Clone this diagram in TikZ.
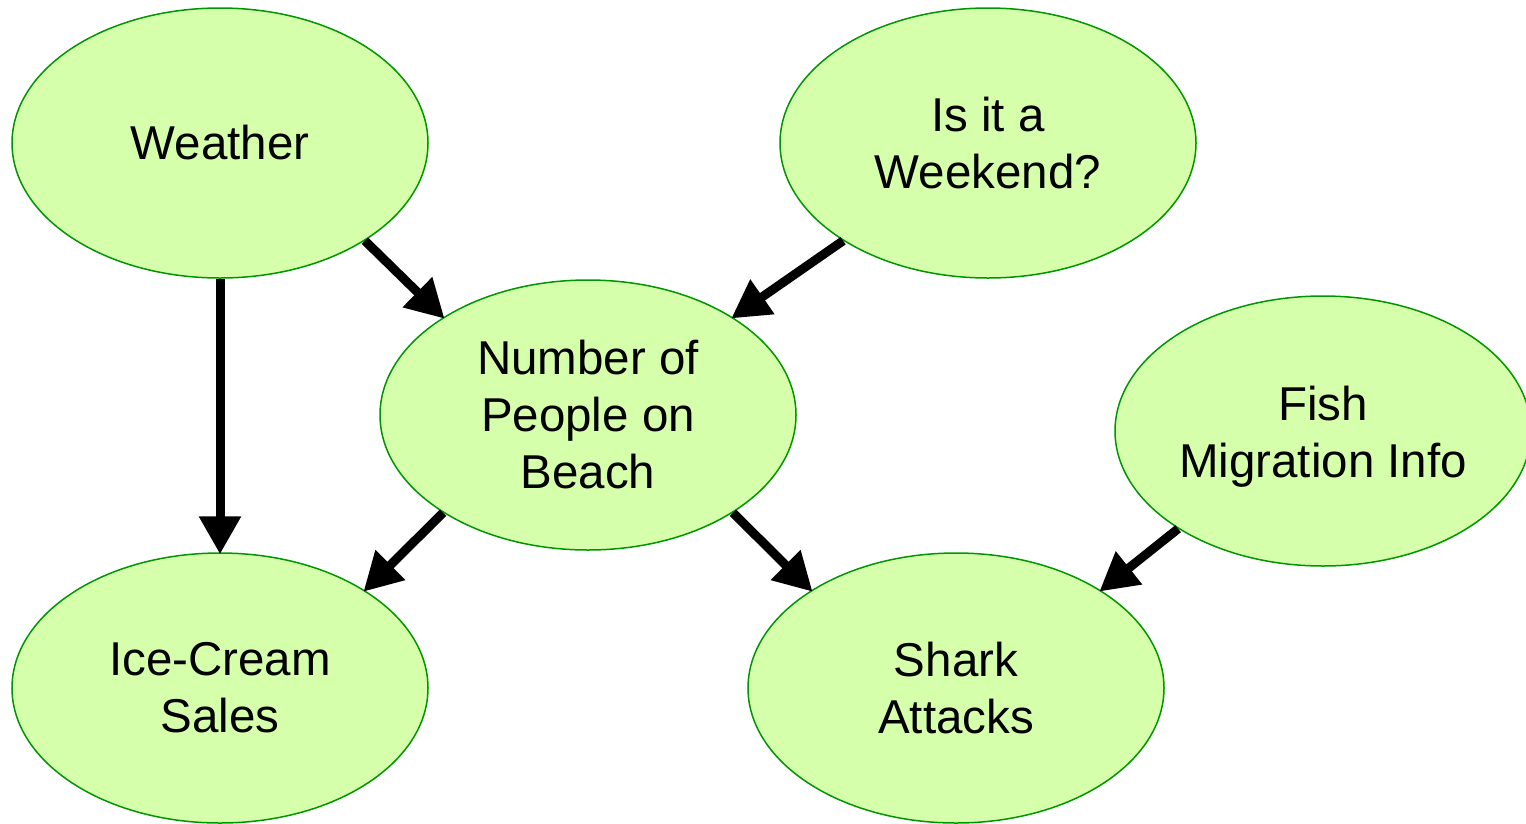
\documentclass[tikz,border=0pt]{standalone}
\usepackage{fontspec}
\setmainfont{Liberation Sans}
\usetikzlibrary{shapes.geometric,arrows.meta}
\definecolor{nodefill}{RGB}{214,255,172}
\definecolor{nodeedge}{RGB}{0,150,0}
\tikzset{
  bubble/.style={ellipse, draw=nodeedge, line width=1.5pt, fill=nodefill,
    minimum width=416pt, minimum height=270pt, inner sep=0pt, align=center,
    font=\fontsize{47.5pt}{57pt}\selectfont},
  conn/.style={line width=9pt, -{Triangle[length=38pt,width=40pt]}, shorten >=-2pt}
}
\begin{document}
\begin{tikzpicture}[x=1pt,y=-1pt]
\useasboundingbox (0,0) rectangle (1526,823);
\node[bubble] (w) at (220,143) {Weather};
\node[bubble] (k) at (988,143) {Is it a\\Weekend?};
\node[bubble] (n) at (588,415) {Number of\\People on\\Beach};
\node[bubble] (f) at (1323,431) {\raisebox{0pt}[\dimexpr\height+13pt\relax]{\begin{tabular}{@{}c@{}}Fish\\Migration Info\end{tabular}}};
\node[bubble] (i) at (220,688) {Ice-Cream\\Sales};
\node[bubble] (s) at (956,688) {Shark\\Attacks};
\draw[conn] (w.-34) -- (n.146);
\draw[conn] (w.south) -- (i.north);
\draw[conn] (k.-146) -- (n.34);
\draw[conn] (n.-146) -- (i.34);
\draw[conn] (n.-34) -- (s.146);
\draw[conn] (f.-146) -- (s.34);
\end{tikzpicture}
\end{document}
